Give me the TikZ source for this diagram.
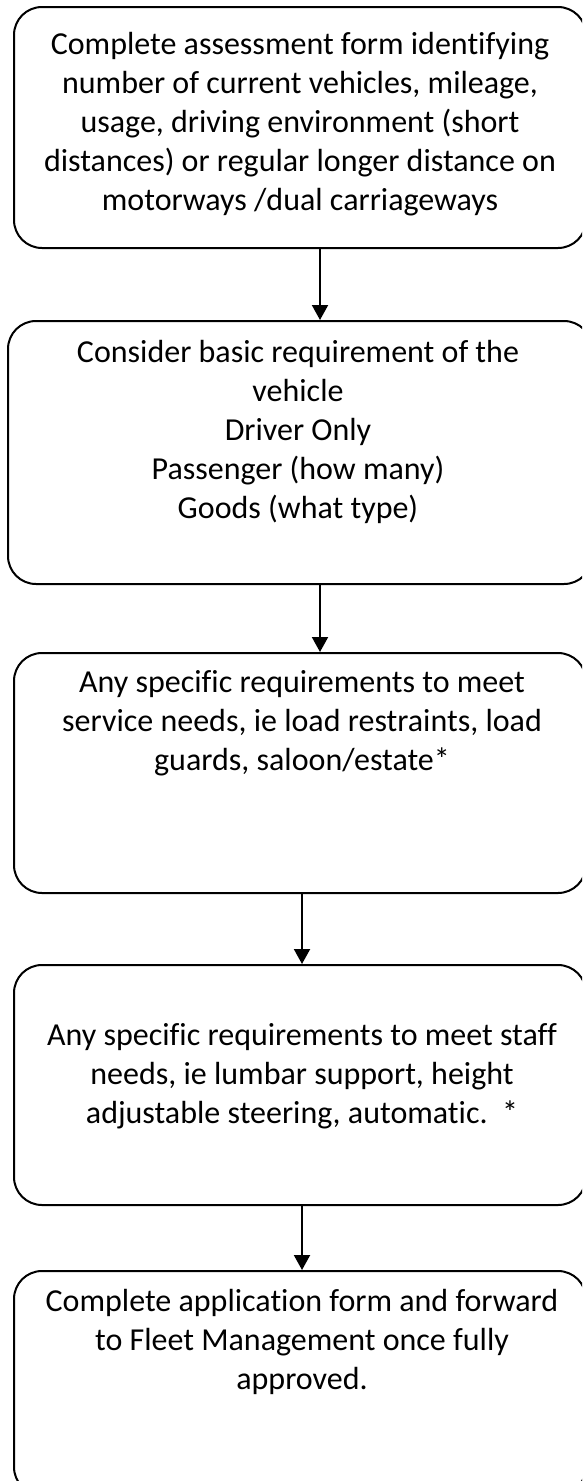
\documentclass[tikz,border=0pt]{standalone}
\usepackage{fontspec}
\setmainfont[Ligatures=NoCommon]{Carlito}
\usetikzlibrary{arrows.meta}
\begin{document}
\begin{tikzpicture}[x=1pt,y=-1pt,
  flowbox/.style={draw=black, line width=2pt, rounded corners=28pt, rectangle, inner sep=0pt},
  boxtext/.style={anchor=north, align=center, inner sep=0pt, font=\fontsize{32}{39}\selectfont},
  arr/.style={draw=black, line width=2pt, -{Triangle[width=16pt,length=15pt]}}]
\useasboundingbox (0,0) rectangle (582,1481);
\fill[white] (0,0) rectangle (582,1481);
\clip (0,0) rectangle (582,1481);
% boxes
\node[flowbox, minimum width=572pt, minimum height=241pt] (b1) at (300,127.5) {};
\node[flowbox, minimum width=584pt, minimum height=263pt] (b2) at (300,452.5) {};
\node[flowbox, minimum width=572pt, minimum height=240pt] (b3) at (300,773) {};
\node[flowbox, minimum width=572pt, minimum height=240pt] (b4) at (300,1085) {};
\node[flowbox, minimum width=572pt, minimum height=224pt] (b5) at (300,1383) {};
% texts
\node[boxtext] (t1) at (300,27) {\rule{0pt}{27pt}Complete assessment form identifying\\number of current vehicles, mileage,\\usage, driving environment (short\\distances) or regular longer distance on\\motorways /dual carriageways};
\node[boxtext] (t2) at (298,335) {\rule{0pt}{27pt}Consider basic requirement of the\\vehicle\\Driver Only\\Passenger (how many)\\Goods (what type)};
\node[boxtext] (t3) at (302,665) {\rule{0pt}{27pt}Any specific requirements to meet\\service needs, ie load restraints, load\\guards, saloon/estate*};
\node[boxtext] (t4) at (302,1018) {\rule{0pt}{27pt}Any specific requirements to meet staff\\needs, ie lumbar support, height\\adjustable steering, automatic.\ \ *};
\node[boxtext] (t5) at (302,1284) {\rule{0pt}{27pt}Complete application form and forward\\to Fleet Management once fully\\approved.};
% arrow columns
\coordinate (c1) at (320,0);
\coordinate (c2) at (302,0);
\draw[arr] (b1.south -| c1) -- (b2.north -| c1);
\draw[arr] (b2.south -| c1) -- (b3.north -| c1);
\draw[arr] (b3.south -| c2) -- (b4.north -| c2);
\draw[arr] (b4.south -| c2) -- (b5.north -| c2);
\end{tikzpicture}
\end{document}
